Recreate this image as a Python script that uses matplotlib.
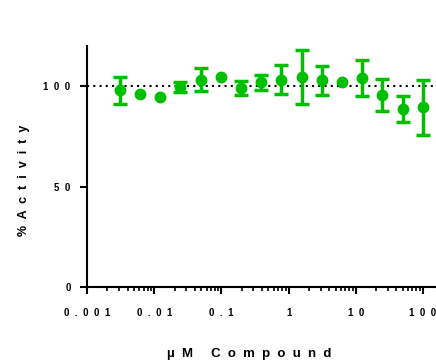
import numpy as np
import matplotlib
matplotlib.use('Agg')
import matplotlib.pyplot as plt

plt.rcParams['font.family'] = ['Liberation Sans', 'DejaVu Sans']

# 2-fold dilution series, top concentration 100 uM
conc = 100.0 / 2.0 ** np.arange(15, -1, -1)
activity = [98.0, 96.4, 94.5, 99.5, 103.4, 104.5, 99.2, 102.0,
            103.4, 104.7, 103.0, 102.0, 104.2, 95.7, 88.7, 89.5]
sd = [6.8, 0.0, 0.0, 2.5, 5.6, 0.0, 3.5, 3.7,
      7.3, 13.5, 7.1, 0.0, 9.0, 8.0, 6.6, 13.8]
xtick_vals = [0.001, 0.01, 0.1, 1, 10, 100]
xtick_labels = ['0.001', '0.01', '0.1', '1', '10', '100']
ytick_vals = [0, 50, 100]


def spaced(s, gap='  '):
    return gap.join(s)


green = '#00BF00'

fig = plt.figure(figsize=(4.36, 3.63), dpi=100)
ax = fig.add_axes([0.2, 0.21, 0.80, 0.664])

conc = np.array(conc)
activity = np.array(activity)
sd = np.array(sd)
has_err = sd > 0

ax.axhline(100, color='black', linestyle=(0, (1, 2)), linewidth=1.5, zorder=1)
ax.errorbar(conc[has_err], activity[has_err], yerr=sd[has_err], fmt='none',
            ecolor=green, elinewidth=2.5, capsize=5, capthick=2.5, zorder=2)
ax.plot(conc, activity, 'o', color=green, markersize=7.5, zorder=3)

ax.set_xscale('log')
ax.set_xlim(0.001, 157)
ax.set_ylim(0, 120.3)

ax.set_xticks(xtick_vals)
ax.set_xticklabels([spaced(t) for t in xtick_labels], fontsize=7, fontweight='bold')
ax.set_yticks(ytick_vals)
ax.set_yticklabels([spaced(str(v)) for v in ytick_vals], fontsize=7, fontweight='bold')

for side in ['top', 'right']:
    ax.spines[side].set_visible(False)
for side in ['left', 'bottom']:
    ax.spines[side].set_linewidth(1.5)
ax.tick_params(axis='both', which='major', width=1.5, length=5)
ax.tick_params(axis='x', which='major', pad=10)
ax.tick_params(axis='y', which='major', pad=7)
ax.tick_params(axis='x', which='minor', width=1.2, length=3)

ax.set_ylabel(spaced('%Activity'), fontsize=9, fontweight='bold')
ax.yaxis.set_label_coords(-0.165, 0.44)
ax.set_xlabel('µ  M     ' + spaced('Compound'), fontsize=9.5, fontweight='bold')
ax.xaxis.set_label_coords(0.465, -0.255)

fig.savefig('out.png', dpi=100)
